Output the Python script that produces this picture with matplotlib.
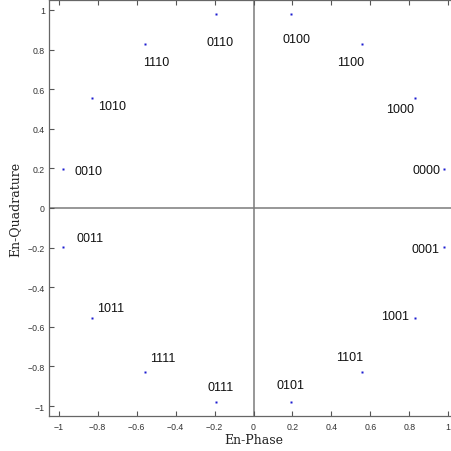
import matplotlib
matplotlib.use("Agg")
import matplotlib.pyplot as plt

# 16-PSK constellation points
labels = ["0000", "1000", "1100", "0100", "0110", "1110", "1010", "0010",
          "0011", "1011", "1111", "0111", "0101", "1101", "1001", "0001"]
in_phase = [0.98, 0.83, 0.556, 0.195, -0.195, -0.556, -0.83, -0.98,
            -0.98, -0.83, -0.556, -0.195, 0.195, 0.556, 0.83, 0.98]
quadrature = [0.195, 0.556, 0.83, 0.98, 0.98, 0.83, 0.556, 0.195,
              -0.195, -0.556, -0.83, -0.98, -0.98, -0.83, -0.556, -0.195]

tick_values = [-1, -0.8, -0.6, -0.4, -0.2, 0, 0.2, 0.4, 0.6, 0.8, 1]
tick_labels = ["\u22121", "\u22120.8", "\u22120.6", "\u22120.4", "\u22120.2", "0",
               "0.2", "0.4", "0.6", "0.8", "1"]

x_label = "En-Phase"
y_label = "En-Quadrature"

# label offsets in pixels (layout only)
label_offsets = [(-17.5, -1), (-15, -11), (-11, -18), (5, -25), (5, -28), (11, -18),
                 (20, -8), (25.5, -1.4), (27.7, 9), (18.7, 9.7), (17.7, 14), (5, 15),
                 (-0.5, 17), (-12, 15.3), (-19.7, 1.7), (-19.3, -2.4)]

fig = plt.figure(figsize=(4.51, 4.52), dpi=100)
ax = fig.add_axes([49 / 451, 1 - 417 / 452, 409 / 451, 416 / 452])

ax.axhline(0, color="#7a7a7a", lw=1.1, zorder=1)
ax.axvline(0, color="#7a7a7a", lw=1.1, zorder=1)

ax.plot(in_phase, quadrature, linestyle="none", marker="s", ms=1.6,
        color="#1a1ad0", mec="none", zorder=3)

for lab, x, y, (dx, dy) in zip(labels, in_phase, quadrature, label_offsets):
    ax.annotate(lab, (x, y), xytext=(dx, dy), textcoords="offset pixels",
                ha="center", va="center", fontsize=9, family="Liberation Sans",
                color="#111111")

ax.set_xlim(-1.05, 1.05)
ax.set_ylim(-1.05, 1.05)
ax.set_xticks(tick_values)
ax.set_xticklabels(tick_labels)
ax.set_yticks(tick_values)
ax.set_yticklabels(tick_labels)
ax.tick_params(direction="in", length=3.5, width=0.8, color="#555555",
               labelsize=6.3, labelcolor="#333333", top=True, right=True)
ax.tick_params(axis="x", pad=4)
ax.tick_params(axis="y", pad=3)
for t in ax.get_xticklabels() + ax.get_yticklabels():
    t.set_family("Liberation Sans")
for s in ax.spines.values():
    s.set_color("#666666")
    s.set_linewidth(0.9)

ax.set_xlabel(x_label, family="DejaVu Serif", fontsize=9, color="#222222", labelpad=2)
ax.set_ylabel(y_label, family="DejaVu Serif", fontsize=9, color="#222222", labelpad=4)

fig.savefig("out.png", dpi=100)
